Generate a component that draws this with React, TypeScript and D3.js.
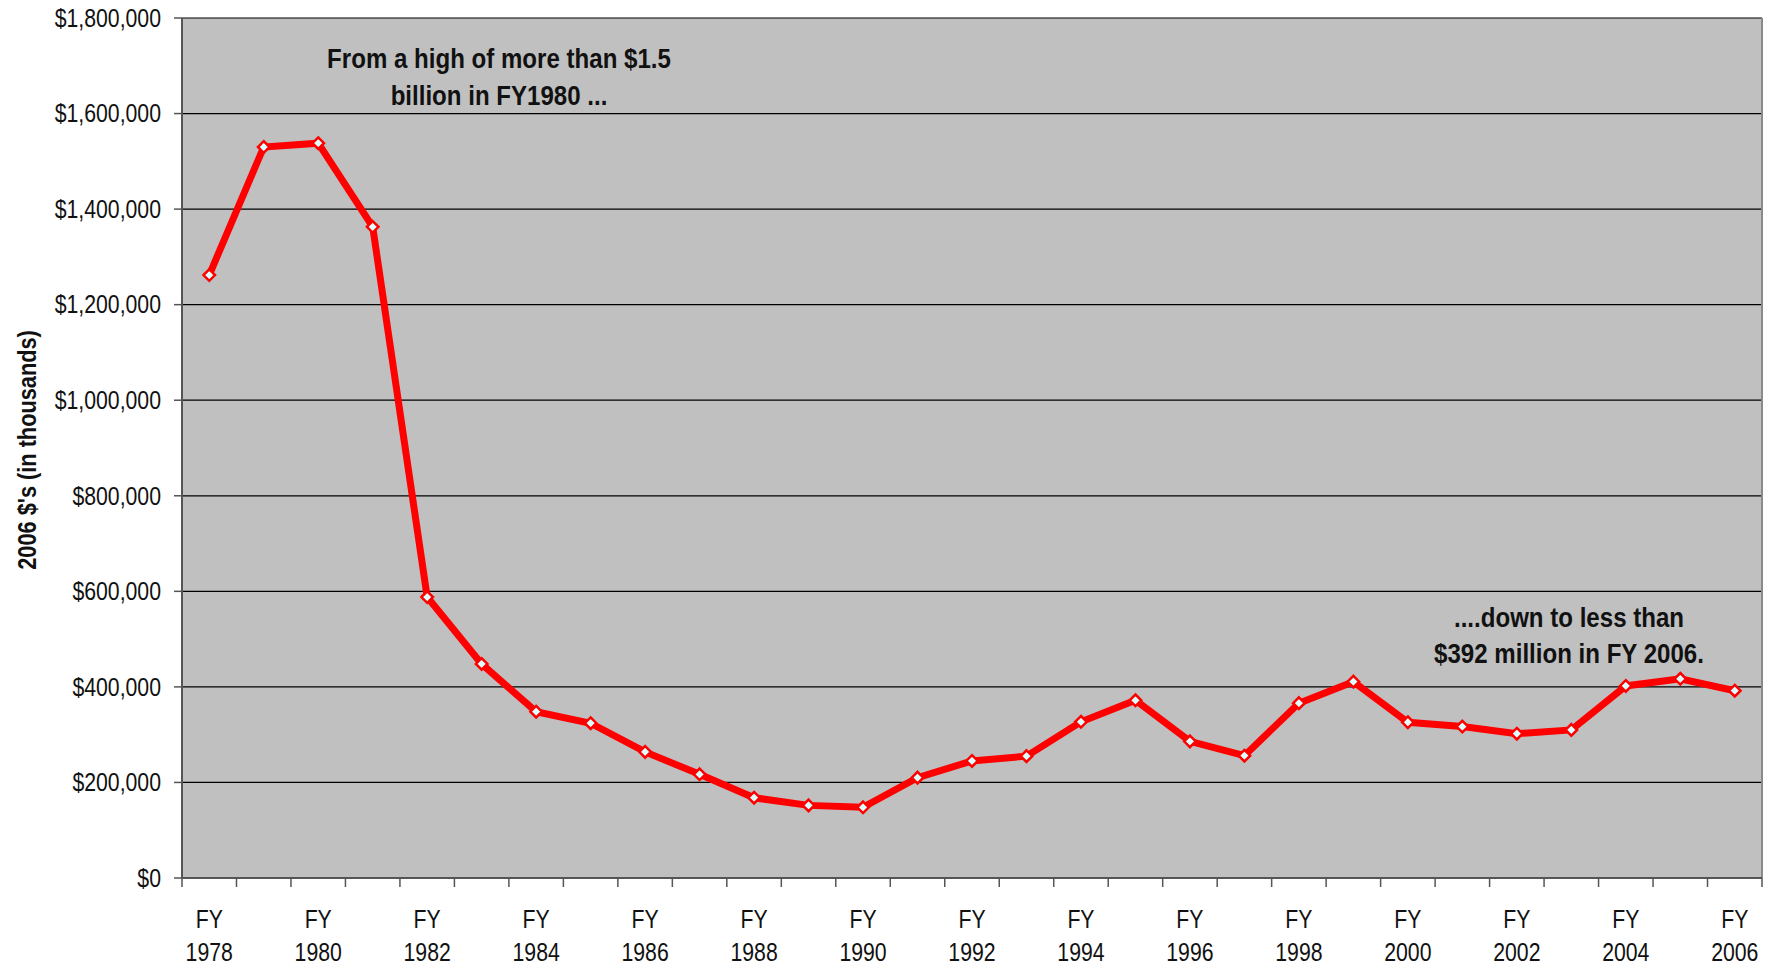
import React from "react";
import * as d3 from "d3";

const years: number[] = [
  1978, 1979, 1980, 1981, 1982, 1983, 1984, 1985, 1986, 1987,
  1988, 1989, 1990, 1991, 1992, 1993, 1994, 1995, 1996, 1997,
  1998, 1999, 2000, 2001, 2002, 2003, 2004, 2005, 2006,
];
const funding: number[] = [
  1262000, 1530000, 1538000, 1363000, 588000, 448000, 348000, 324000, 264000, 217000,
  168000, 152000, 148000, 210000, 245000, 255000, 327000, 372000, 286000, 256000,
  366000, 411000, 326000, 317000, 302000, 310000, 402000, 417000, 392000,
];
const yTicks: number[] = [0, 200000, 400000, 600000, 800000, 1000000, 1200000, 1400000, 1600000, 1800000];
const labeledYears: number[] = [1978, 1980, 1982, 1984, 1986, 1988, 1990, 1992, 1994, 1996, 1998, 2000, 2002, 2004, 2006];
const note1: string[] = ["From a high of more than $1.5", "billion in FY1980 ..."];
const note2: string[] = ["....down to less than", "$392 million in FY 2006."];
const yTitle = "2006 $'s (in thousands)";

const W = 1778;
const H = 967;
const left = 182;
const right = 1762;
const top = 18;
const bottom = 878;
const FONT = "'Liberation Sans', Arial, sans-serif";

type TxtProps = {
  x: number;
  y: number;
  anchor?: "start" | "middle" | "end";
  size: number;
  sx: number;
  bold?: boolean;
  rotate?: number;
  dy?: string;
  children: React.ReactNode;
};

function Txt({ x, y, anchor = "middle", size, sx, bold, rotate = 0, dy, children }: TxtProps) {
  return (
    <text
      transform={`translate(${x},${y}) rotate(${rotate}) scale(${sx},1)`}
      textAnchor={anchor}
      fontSize={size}
      fontWeight={bold ? "bold" : "normal"}
      fill="#111"
      dy={dy}
    >
      {children}
    </text>
  );
}

export default function App() {
  const x = d3.scaleBand<number>().domain(years).range([left, right]).padding(0);
  const cx = (yr: number) => (x(yr) as number) + x.bandwidth() / 2;
  const y = d3.scaleLinear().domain([0, 1800000]).range([bottom, top]);
  const fmt = (v: number) => "$" + d3.format(",")(v);

  const data = years.map((yr, i) => ({ yr, v: funding[i] }));
  const line = d3.line<{ yr: number; v: number }>().x((d) => cx(d.yr)).y((d) => y(d.v));
  const boundaries = years.map((yr) => x(yr) as number).concat([right]);
  const diamond = d3.symbol(d3.symbolDiamond2, 85)() as string;

  return (
    <svg width={W} height={H} style={{ position: "absolute", left: 0, top: 0, background: "#fff" }} fontFamily={FONT}>
      <rect x={left} y={top} width={right - left} height={bottom - top} fill="#C0C0C0" />
      {yTicks.slice(1).map((t) => (
        <line key={t} x1={left} x2={right} y1={y(t)} y2={y(t)} stroke="#000" strokeWidth={1.2} />
      ))}
      <line x1={right} x2={right} y1={top} y2={bottom} stroke="#8a8a8a" strokeWidth={2} />
      <line x1={left} x2={left} y1={top} y2={bottom} stroke="#555" strokeWidth={2} />
      <line x1={left} x2={right} y1={bottom} y2={bottom} stroke="#555" strokeWidth={2} />
      {yTicks.map((t) => (
        <g key={t}>
          <line x1={left - 8} x2={left} y1={y(t)} y2={y(t)} stroke="#555" strokeWidth={1.5} />
          <Txt x={left - 21} y={y(t)} dy="0.35em" anchor="end" size={25} sx={0.85}>
            {fmt(t)}
          </Txt>
        </g>
      ))}
      {boundaries.map((b, i) => (
        <line key={i} x1={b} x2={b} y1={bottom} y2={bottom + 9} stroke="#555" strokeWidth={1.5} />
      ))}
      {labeledYears.map((yr) => (
        <g key={yr}>
          <Txt x={cx(yr)} y={928} size={25} sx={0.85}>FY</Txt>
          <Txt x={cx(yr)} y={961} size={25} sx={0.85}>{yr}</Txt>
        </g>
      ))}
      <Txt x={36} y={450} rotate={-90} size={25} sx={0.87} bold>
        {yTitle}
      </Txt>
      <path d={line(data) as string} fill="none" stroke="#FF0000" strokeWidth={7} strokeLinejoin="miter" />
      {data.map((d) => (
        <path
          key={d.yr}
          d={diamond}
          transform={`translate(${cx(d.yr)},${y(d.v)})`}
          fill="#DDFFFF"
          stroke="#FF0000"
          strokeWidth={2.5}
        />
      ))}
      {note1.map((s, i) => (
        <Txt key={i} x={499} y={68 + i * 37} size={28} sx={0.86} bold>
          {s}
        </Txt>
      ))}
      {note2.map((s, i) => (
        <Txt key={i} x={1569} y={627 + i * 36} size={28} sx={0.86} bold>
          {s}
        </Txt>
      ))}
    </svg>
  );
}
